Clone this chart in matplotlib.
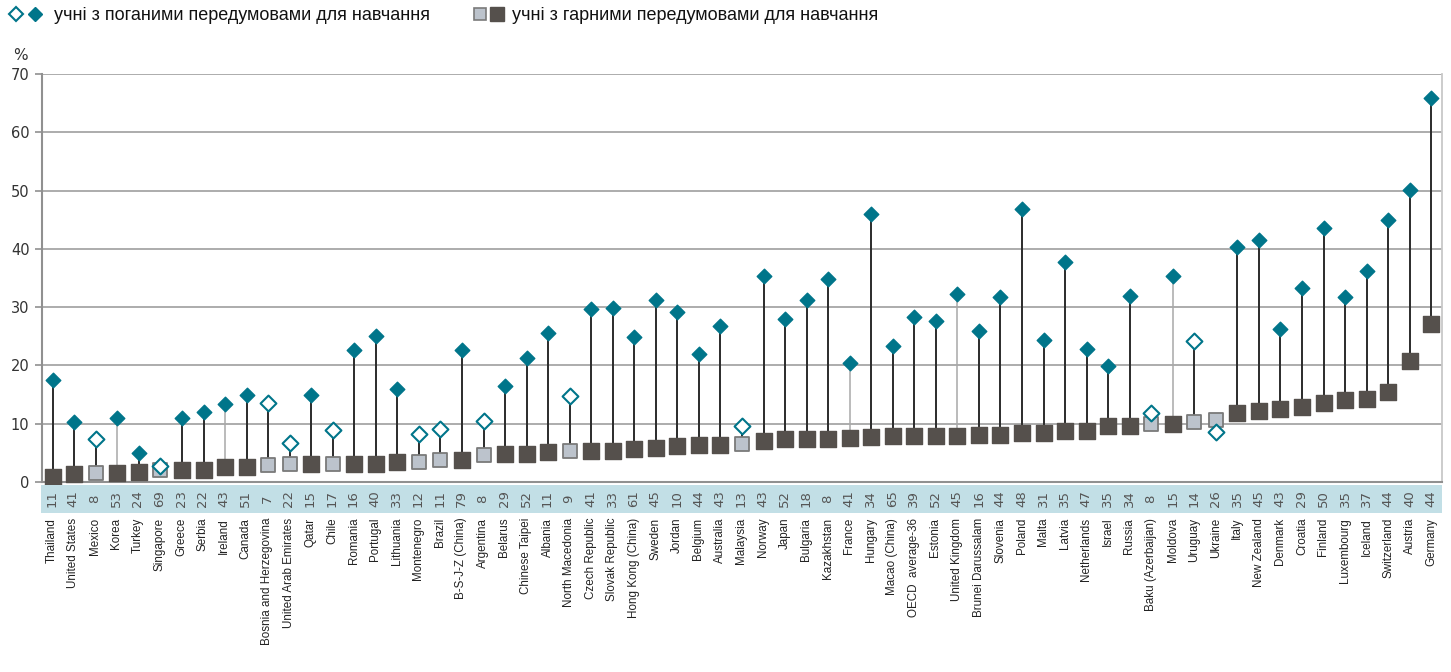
import numpy as np
import matplotlib
matplotlib.use('Agg')
import matplotlib.pyplot as plt
from matplotlib.lines import Line2D

countries = ['Thailand', 'United States', 'Mexico', 'Korea', 'Turkey', 'Singapore', 'Greece', 'Serbia',
             'Ireland', 'Canada', 'Bosnia and Herzegovina', 'United Arab Emirates', 'Qatar', 'Chile',
             'Romania', 'Portugal', 'Lithuania', 'Montenegro', 'Brazil', 'B-S-J-Z (China)', 'Argentina',
             'Belarus', 'Chinese Taipei', 'Albania', 'North Macedonia', 'Czech Republic', 'Slovak Republic',
             'Hong Kong (China)', 'Sweden', 'Jordan', 'Belgium', 'Australia', 'Malaysia', 'Norway', 'Japan',
             'Bulgaria', 'Kazakhstan', 'France', 'Hungary', 'Macao (China)', 'OECD  average-36', 'Estonia',
             'United Kingdom', 'Brunei Darussalam', 'Slovenia', 'Poland', 'Malta', 'Latvia', 'Netherlands',
             'Israel', 'Russia', 'Baku (Azerbaijan)', 'Moldova', 'Uruguay', 'Ukraine', 'Italy',
             'New Zealand', 'Denmark', 'Croatia', 'Finland', 'Luxembourg', 'Iceland', 'Switzerland',
             'Austria', 'Germany']

counts = [11, 41, 8, 53, 24, 69, 23, 22, 43, 51, 7, 22, 15, 17, 16, 40, 33, 12, 11, 79, 8,
          29, 52, 11, 9, 41, 33, 61, 45, 10, 44, 43, 13, 43, 52, 18, 8, 41, 34, 65, 39, 52,
          45, 16, 44, 48, 31, 35, 47, 35, 34, 8, 15, 14, 26, 35, 45, 43, 29, 50, 35, 37, 44, 40, 44]

disadv = [17.5, 10.3, 7.3, 10.9, 5.0, 2.7, 10.9, 12.0, 13.3, 14.9, 13.6, 6.7, 14.9, 8.9,
          22.6, 25.0, 15.9, 8.3, 9.1, 22.6, 10.4, 16.5, 21.3, 25.6, 14.8, 29.6, 29.9, 24.8,
          31.3, 29.1, 22.0, 26.7, 9.6, 35.3, 28.0, 31.3, 34.9, 20.4, 46.0, 23.4, 28.3, 27.6,
          32.3, 25.9, 31.7, 46.9, 24.4, 37.7, 22.8, 19.9, 31.9, 11.9, 35.3, 24.2, 8.5, 40.4,
          41.6, 26.2, 33.3, 43.6, 31.7, 36.2, 44.9, 50.1, 65.9]

adv = [0.8, 1.4, 1.5, 1.6, 1.7, 2.0, 2.1, 2.1, 2.5, 2.5, 2.9, 3.1, 3.1, 3.1, 3.1, 3.1, 3.4,
       3.5, 3.7, 3.8, 4.7, 4.75, 4.75, 5.2, 5.4, 5.3, 5.3, 5.6, 5.8, 6.1, 6.3, 6.3, 6.5, 7.1,
       7.3, 7.3, 7.3, 7.6, 7.7, 7.9, 7.9, 7.9, 7.9, 8.0, 8.0, 8.4, 8.4, 8.7, 8.7, 9.6, 9.6,
       9.9, 9.9, 10.3, 10.7, 11.8, 12.2, 12.6, 12.9, 13.6, 14.0, 14.3, 15.4, 20.8, 27.1]

# countries shown with hollow / light markers
open_marks = ['Mexico', 'Singapore', 'Bosnia and Herzegovina', 'United Arab Emirates', 'Chile',
              'Montenegro', 'Brazil', 'Argentina', 'North Macedonia', 'Malaysia',
              'Baku (Azerbaijan)', 'Uruguay', 'Ukraine']
# countries with a light connecting line
light_lines = ['Korea', 'Ireland', 'France', 'United Kingdom', 'Moldova']

teal = '#00758a'
dark = '#55504c'
light = '#bcc3cc'

fig = plt.figure(figsize=(14.51, 6.72), dpi=100)
ax = fig.add_axes([42/1451, 1 - 482/672, 1400/1451, 408/672])

x = np.arange(len(countries))
is_open = np.array([c in open_marks for c in countries])
is_light = np.array([c in light_lines for c in countries])
lo = np.minimum(disadv, adv)
hi = np.maximum(disadv, adv)

ax.vlines(x[~is_light], lo[~is_light], hi[~is_light], color='#2b2b2b', lw=1.4, zorder=2)
ax.vlines(x[is_light], lo[is_light], hi[is_light], color='#a8a8a8', lw=1.1, zorder=2)

adv_a = np.array(adv)
dis_a = np.array(disadv)
ax.scatter(x[~is_open], adv_a[~is_open], marker='s', s=120, color=dark, zorder=3, clip_on=False)
ax.scatter(x[is_open], adv_a[is_open], marker='s', s=105, facecolor=light, edgecolor='#7a7a7a',
           linewidth=1.3, zorder=3, clip_on=False)
ax.scatter(x[~is_open], dis_a[~is_open], marker='D', s=55, color=teal, zorder=4, clip_on=False)
ax.scatter(x[is_open], dis_a[is_open], marker='D', s=65, facecolor='white', edgecolor=teal,
           linewidth=1.5, zorder=4, clip_on=False)

ax.set_xlim(-0.5, len(countries) - 0.5)
ax.set_ylim(0, 70)
ax.set_yticks(range(0, 71, 10))
ax.yaxis.grid(True, color='#a6a6a6', lw=1.3)
ax.set_axisbelow(True)
ax.set_xticks([])
ax.tick_params(axis='y', length=5, width=1.2, color='#909090', labelsize=10.5, labelcolor='#333333', pad=4)
for side in ['left', 'bottom']:
    ax.spines[side].set_color('#909090')
    ax.spines[side].set_linewidth(1.5)
ax.spines['right'].set_color('#c8c8c8')
ax.spines['right'].set_linewidth(1.3)
ax.spines['top'].set_visible(False)

fig.text(20/1451, 1 - 55/672, '%', fontsize=11, color='#333333', ha='center', va='center')

# band with student counts
band = fig.add_axes([41/1451, 1 - 513/672, 1401/1451, 28/672])
band.set_facecolor('#c2dfe6')
band.set_xlim(-0.5, len(countries) - 0.5)
band.set_ylim(0, 1)
band.set_xticks([])
band.set_yticks([])
for s in band.spines.values():
    s.set_visible(False)
for i, n in enumerate(counts):
    band.text(i, 0.5, str(n), rotation=90, ha='center', va='center', fontsize=9.5, color='#555555')

# country labels
for i, c in enumerate(countries):
    band.text(i, -0.17, c, rotation=90, ha='center', va='top', fontsize=8.4,
              family='Liberation Sans', color='#222222')

# legend
leg_font = dict(fontsize=13, family='Liberation Sans', va='center', color='#111111')
fig.add_artist(Line2D([16/1451], [1 - 14/672], marker='D', ms=7, mfc='white', mec=teal, mew=1.5,
                      transform=fig.transFigure))
fig.add_artist(Line2D([35/1451], [1 - 14/672], marker='D', ms=7.5, mfc=teal, mec=teal,
                      transform=fig.transFigure))
fig.text(54/1451, 1 - 15/672, 'учні з поганими передумовами для навчання', **leg_font)
fig.add_artist(Line2D([480/1451], [1 - 14/672], marker='s', ms=9, mfc=light, mec='#7a7a7a', mew=1.2,
                      transform=fig.transFigure))
fig.add_artist(Line2D([497/1451], [1 - 14/672], marker='s', ms=10, mfc=dark, mec=dark,
                      transform=fig.transFigure))
fig.text(512/1451, 1 - 15/672, 'учні з гарними передумовами для навчання', **leg_font)

fig.savefig('out.png', dpi=100)
